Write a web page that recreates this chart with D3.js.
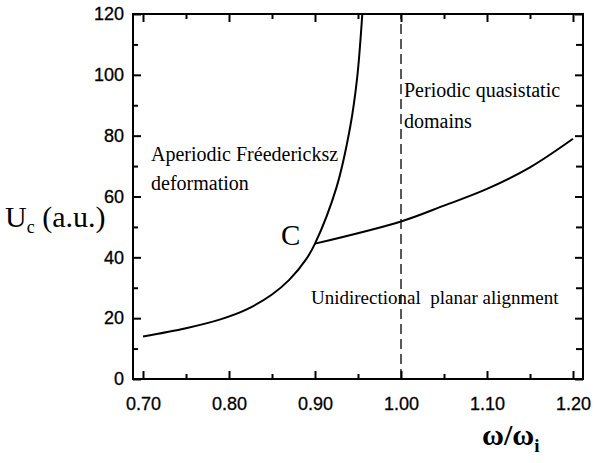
<!DOCTYPE html>
<html>
<head>
<meta charset="utf-8">
<script src="https://cdn.jsdelivr.net/npm/d3@7"></script>
<style>
  body { margin: 0; background: #fff; }
  svg { display: block; }
  .tick text { font-family: Arial, "Liberation Sans", Helvetica, sans-serif; font-size: 18px; fill: #000; stroke: #000; stroke-width: 0.3; }
  .tick line { stroke: #000; stroke-width: 2; }
  .lbl { font-family: "Times New Roman", "Liberation Serif", serif; fill: #000; }
</style>
</head>
<body>
<svg width="595" height="463"></svg>
<script>
// x = omega/omega_i, y = U_c (a.u.)
const freedericksz = [
  [0.70, 14], [0.75, 16.7], [0.79, 19.6], [0.82, 22.8], [0.85, 27.8], [0.87, 32.6],
  [0.89, 39.5], [0.90, 44.5], [0.925, 63], [0.941, 83], [0.949, 99], [0.955, 120]
];
const planar = [
  [0.90, 44.5], [1.00, 51.8], [1.05, 57], [1.10, 62.5], [1.15, 69.6], [1.20, 79]
];
const boundaryX = 1.00;

const xMajor = [0.70, 0.80, 0.90, 1.00, 1.10, 1.20];
const xMinor = [0.75, 0.85, 0.95, 1.05, 1.15];
const yMajor = [0, 20, 40, 60, 80, 100, 120];
const yMinor = [10, 30, 50, 70, 90, 110];

const svg = d3.select('svg');

const x = d3.scaleLinear().domain([0.68837, 1.21163]).range([133, 583]);
const y = d3.scaleLinear().domain([0, 120]).range([379, 14]);

// ticks point inward on all four sides
function addAxis(axis, tx, ty) {
  const g = svg.append('g').attr('transform', `translate(${tx},${ty})`).call(axis);
  g.select('.domain').remove();
  return g;
}

addAxis(d3.axisBottom(x).tickValues(xMajor).tickSize(-8).tickPadding(18).tickFormat(d3.format('.2f')), 0, 379);
addAxis(d3.axisBottom(x).tickValues(xMinor).tickSize(-5).tickFormat(''), 0, 379);
addAxis(d3.axisTop(x).tickValues(xMajor).tickSize(-8).tickFormat(''), 0, 14);
addAxis(d3.axisTop(x).tickValues(xMinor).tickSize(-5).tickFormat(''), 0, 14);

addAxis(d3.axisLeft(y).tickValues(yMajor).tickSize(-8).tickPadding(9), 133, 0);
addAxis(d3.axisLeft(y).tickValues(yMinor).tickSize(-5).tickFormat(''), 133, 0);
addAxis(d3.axisRight(y).tickValues(yMajor).tickSize(-8).tickFormat(''), 583, 0);
addAxis(d3.axisRight(y).tickValues(yMinor).tickSize(-7).tickFormat(''), 583, 0);

// frame
svg.append('rect')
  .attr('x', x.range()[0]).attr('y', y.range()[1])
  .attr('width', x.range()[1] - x.range()[0])
  .attr('height', y.range()[0] - y.range()[1])
  .attr('fill', 'none').attr('stroke', '#000').attr('stroke-width', 2);

// dashed boundary
svg.append('line')
  .attr('x1', x(boundaryX)).attr('x2', x(boundaryX))
  .attr('y1', y(0)).attr('y2', y(120))
  .attr('stroke', '#000').attr('stroke-width', 1.3)
  .attr('stroke-dasharray', '10,5');

const line = d3.line()
  .x(d => x(d[0]))
  .y(d => y(d[1]))
  .curve(d3.curveCatmullRom.alpha(0.5));

[freedericksz, planar].forEach(s => {
  svg.append('path')
    .attr('d', line(s))
    .attr('fill', 'none')
    .attr('stroke', '#000')
    .attr('stroke-width', 2);
});

// region labels
function label(txt, lx, ly, size) {
  svg.append('text').attr('class', 'lbl')
    .attr('x', lx).attr('y', ly)
    .attr('font-size', size)
    .style('white-space', 'pre')
    .text(txt);
}
label('Aperiodic Fréedericksz', 151, 161, 20);
label('deformation', 151, 190, 20);
label('Periodic quasistatic', 404, 97, 20);
label('domains', 404, 128, 20);
label('Unidirectional  planar alignment', 311, 304, 19);
label('C', 281, 245, 29);

// axis titles
const yt = svg.append('text').attr('class', 'lbl')
  .attr('x', 5).attr('y', 227).attr('font-size', 30);
yt.append('tspan').text('U');
yt.append('tspan').attr('font-size', 18).attr('dy', 6).text('c');
yt.append('tspan').attr('dy', -6).text(' (a.u.)');

const xt = svg.append('text').attr('class', 'lbl')
  .attr('x', 482).attr('y', 445).attr('font-size', 30).attr('font-weight', 'bold');
xt.append('tspan').text('ω/ω');
xt.append('tspan').attr('font-size', 19).attr('dy', 7).text('i');
</script>
</body>
</html>
